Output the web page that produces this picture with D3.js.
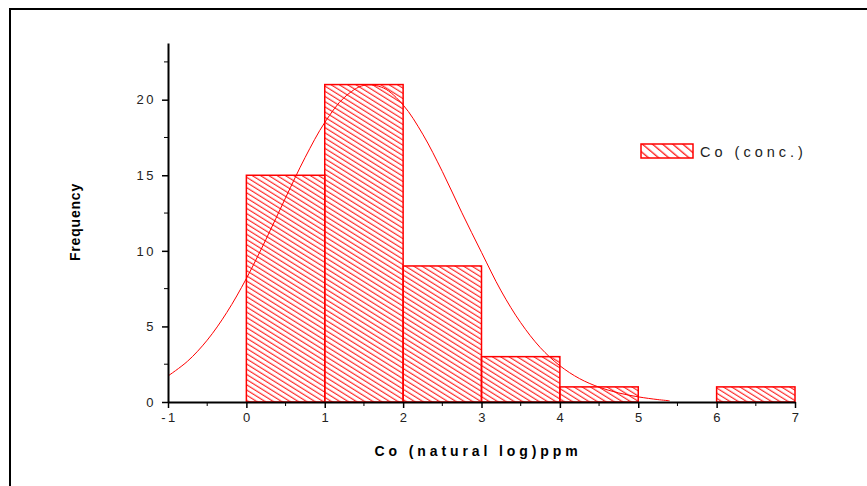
<!DOCTYPE html>
<html>
<head>
<meta charset="utf-8">
<script src="https://cdn.jsdelivr.net/npm/d3@7"></script>
<style>
  body { margin: 0; background: #fff; }
  text { font-family: "Liberation Sans", Arial, sans-serif; }
</style>
</head>
<body>
<svg id="chart" width="867" height="486"></svg>
<script>
// histogram bins (natural log of Co, ppm)
const binStart = [0, 1, 2, 3, 4, 6];
const binEnd   = [1, 2, 3, 4, 5, 7];
const counts   = [15, 21, 9, 3, 1, 1];

// fitted normal curve
const curveX = [-1, -0.75, -0.5, -0.25, 0, 0.25, 0.5, 0.75, 1, 1.25, 1.5, 1.75, 2, 2.25, 2.5, 2.75, 3, 3.25, 3.5, 3.75, 4, 4.25, 4.5, 4.75, 5, 5.25, 5.4];
const curveY = [1.72, 2.7, 4.09, 5.92, 8.17, 10.76, 13.51, 16.18, 18.49, 20.15, 20.95, 20.77, 19.65, 17.72, 15.25, 12.52, 9.9, 7.35, 5.25, 3.6, 2.4, 1.55, 0.98, 0.6, 0.34, 0.16, 0.08];

const xTicks = [-1, 0, 1, 2, 3, 4, 5, 6, 7];
const yTicks = [0, 5, 10, 15, 20];

const svg = d3.select("#chart");
const red = "#ff0000";

const x = d3.scaleLinear().domain([-1, 7]).range([168, 795]);
const y = d3.scaleLinear().domain([0, 23.75]).range([402, 43]);

// hatch patterns
const defs = svg.append("defs");
defs.append("pattern")
    .attr("id", "hatch")
    .attr("patternUnits", "userSpaceOnUse")
    .attr("width", 10).attr("height", 4.4)
    .attr("patternTransform", "rotate(32)")
  .append("line")
    .attr("x1", 0).attr("x2", 10).attr("y1", 2).attr("y2", 2)
    .attr("stroke", red).attr("stroke-width", 1);
defs.append("pattern")
    .attr("id", "hatchLegend")
    .attr("patternUnits", "userSpaceOnUse")
    .attr("width", 10).attr("height", 6.5)
    .attr("patternTransform", "rotate(40)")
  .append("line")
    .attr("x1", 0).attr("x2", 10).attr("y1", 3).attr("y2", 3)
    .attr("stroke", red).attr("stroke-width", 1.2);

// frame (top and left only)
svg.append("line").attr("x1", 9).attr("x2", 867).attr("y1", 9).attr("y2", 9)
    .attr("stroke", "#000").attr("stroke-width", 2);
svg.append("line").attr("x1", 10).attr("x2", 10).attr("y1", 8).attr("y2", 486)
    .attr("stroke", "#000").attr("stroke-width", 2);

// bars
svg.append("g").selectAll("rect")
  .data(counts)
  .join("rect")
    .attr("x", (d, i) => x(binStart[i]))
    .attr("width", (d, i) => x(binEnd[i]) - x(binStart[i]))
    .attr("y", d => y(d))
    .attr("height", d => y(0) - y(d))
    .attr("fill", "url(#hatch)")
    .attr("stroke", red)
    .attr("stroke-width", 1.5);

// normal curve
const line = d3.line()
    .x((d, i) => x(curveX[i]))
    .y(d => y(d))
    .curve(d3.curveCatmullRom);
svg.append("path")
    .datum(curveY)
    .attr("d", line)
    .attr("fill", "none")
    .attr("stroke", red)
    .attr("stroke-width", 1);

// x axis
const xAxis = svg.append("g")
    .attr("transform", `translate(0,${y(0)})`)
    .call(d3.axisBottom(x).tickValues(xTicks).tickSize(6).tickSizeOuter(0).tickPadding(5).tickFormat(d => String(d)));
xAxis.append("g").selectAll("line")
  .data(xTicks.slice(0, -1).map(d => d + 0.5))
  .join("line")
    .attr("x1", d => x(d)).attr("x2", d => x(d))
    .attr("y1", 0).attr("y2", 4)
    .attr("stroke", "#000");

// y axis
const yAxis = svg.append("g")
    .attr("transform", `translate(${x(-1)},0)`)
    .call(d3.axisLeft(y).tickValues(yTicks).tickSize(6).tickSizeOuter(0).tickPadding(6).tickFormat(d => String(d)));
yAxis.append("g").selectAll("line")
  .data([2.5, 7.5, 12.5, 17.5, 22.5])
  .join("line")
    .attr("x1", 0).attr("x2", -4)
    .attr("y1", d => y(d)).attr("y2", d => y(d))
    .attr("stroke", "#000");

svg.selectAll(".domain").attr("stroke", "#000").attr("stroke-width", 2);
svg.selectAll(".tick line").attr("stroke", "#000").attr("stroke-width", 1.5);
svg.selectAll(".tick text")
    .attr("fill", "#222")
    .style("font-size", "13px")
    .style("letter-spacing", "2.5px");
xAxis.selectAll(".tick text").attr("dx", "1px");

// axis titles
svg.append("text")
    .attr("x", 478).attr("y", 456)
    .attr("text-anchor", "middle")
    .style("font-size", "14px").style("font-weight", "bold")
    .style("letter-spacing", "3.9px")
    .text("Co (natural log)ppm");
svg.append("text")
    .attr("transform", "translate(80,222) rotate(-90)")
    .attr("text-anchor", "middle")
    .style("font-size", "14px").style("font-weight", "bold")
    .style("letter-spacing", "0.8px")
    .text("Frequency");

// legend
svg.append("rect")
    .attr("x", 641).attr("y", 144).attr("width", 52).attr("height", 14)
    .attr("fill", "url(#hatchLegend)")
    .attr("stroke", red).attr("stroke-width", 1.5);
svg.append("text")
    .attr("x", 700).attr("y", 157)
    .attr("fill", "#222")
    .style("font-size", "14.5px")
    .style("letter-spacing", "4px")
    .text("Co (conc.)");
</script>
</body>
</html>
